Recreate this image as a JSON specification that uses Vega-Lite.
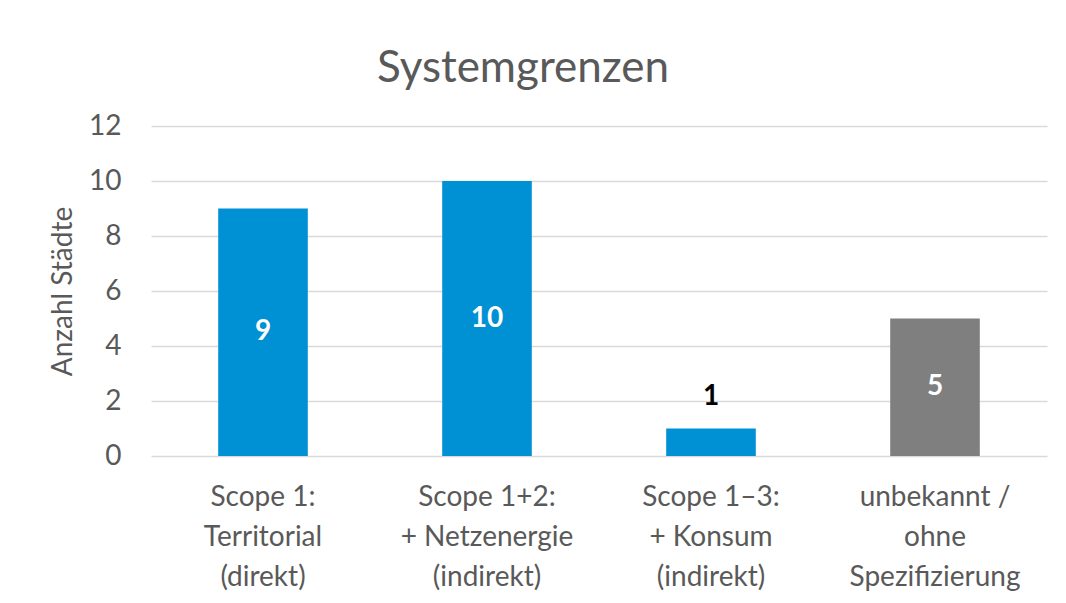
{
  "$schema": "https://vega.github.io/schema/vega-lite/v6.json",
  "autosize": {"type": "none"},
  "width": 896,
  "height": 330,
  "padding": {"left": 151, "top": 126, "right": 19, "bottom": 147},
  "background": "white",
  "title": {
    "text": "Systemgrenzen",
    "font": "Lato",
    "fontSize": 44,
    "fontWeight": "normal",
    "color": "#595959",
    "anchor": "middle",
    "frame": "group",
    "dx": -76,
    "offset": 21
  },
  "data": {
    "values": [
      {"kategorie": "Scope 1:\nTerritorial\n(direkt)", "n": 9, "typ": "bekannt"},
      {"kategorie": "Scope 1+2:\n+ Netzenergie\n(indirekt)", "n": 10, "typ": "bekannt"},
      {"kategorie": "Scope 1–3:\n+ Konsum\n(indirekt)", "n": 1, "typ": "bekannt"},
      {"kategorie": "unbekannt /\nohne\nSpezifizierung", "n": 5, "typ": "unbekannt"}
    ]
  },
  "encoding": {
    "x": {
      "field": "kategorie",
      "type": "nominal",
      "sort": null,
      "scale": {"paddingInner": 0.6, "paddingOuter": 0.3},
      "axis": {
        "title": null,
        "labelAngle": 0,
        "labelExpr": "split(datum.value, '\\n')",
        "labelFont": "Lato",
        "labelFontSize": 28,
        "labelColor": "#595959",
        "labelLineHeight": 40,
        "labelBaseline": "top",
        "labelPadding": 27,
        "ticks": false,
        "domain": false,
        "grid": false
      }
    }
  },
  "layer": [
    {
      "mark": {"type": "bar"},
      "encoding": {
        "y": {
          "field": "n",
          "type": "quantitative",
          "scale": {"domain": [0, 12]},
          "axis": {
            "title": "Anzahl Städte",
            "titleFont": "Lato",
            "titleFontSize": 28,
            "titleFontWeight": "normal",
            "titleColor": "#595959",
            "titleX": -88,
            "titleY": 165,
            "titleAlign": "center",
            "titleBaseline": "middle",
            "titleAngle": -90,
            "values": [0, 2, 4, 6, 8, 10, 12],
            "labelFont": "Lato",
            "labelFontSize": 28,
            "labelColor": "#595959",
            "labelPadding": 30,
            "ticks": false,
            "domain": false,
            "grid": true,
            "gridColor": "#d9d9d9",
            "gridWidth": 1.5
          }
        },
        "color": {
          "field": "typ",
          "type": "nominal",
          "scale": {"domain": ["bekannt", "unbekannt"], "range": ["#0090d4", "#7f7f7f"]},
          "legend": null
        }
      }
    },
    {
      "transform": [
        {"filter": "datum.n >= 2"},
        {"calculate": "datum.n / 2", "as": "mitte"}
      ],
      "mark": {
        "type": "text",
        "font": "Lato",
        "fontSize": 28,
        "fontWeight": "bold",
        "color": "white",
        "baseline": "middle",
        "align": "center"
      },
      "encoding": {
        "y": {"field": "mitte", "type": "quantitative"},
        "text": {"field": "n", "type": "quantitative"}
      }
    },
    {
      "transform": [{"filter": "datum.n < 2"}],
      "mark": {
        "type": "text",
        "font": "Lato",
        "fontSize": 28,
        "fontWeight": "bold",
        "color": "black",
        "baseline": "middle",
        "align": "center",
        "dy": -32
      },
      "encoding": {
        "y": {"field": "n", "type": "quantitative"},
        "text": {"field": "n", "type": "quantitative"}
      }
    }
  ],
  "config": {"view": {"stroke": null}}
}
